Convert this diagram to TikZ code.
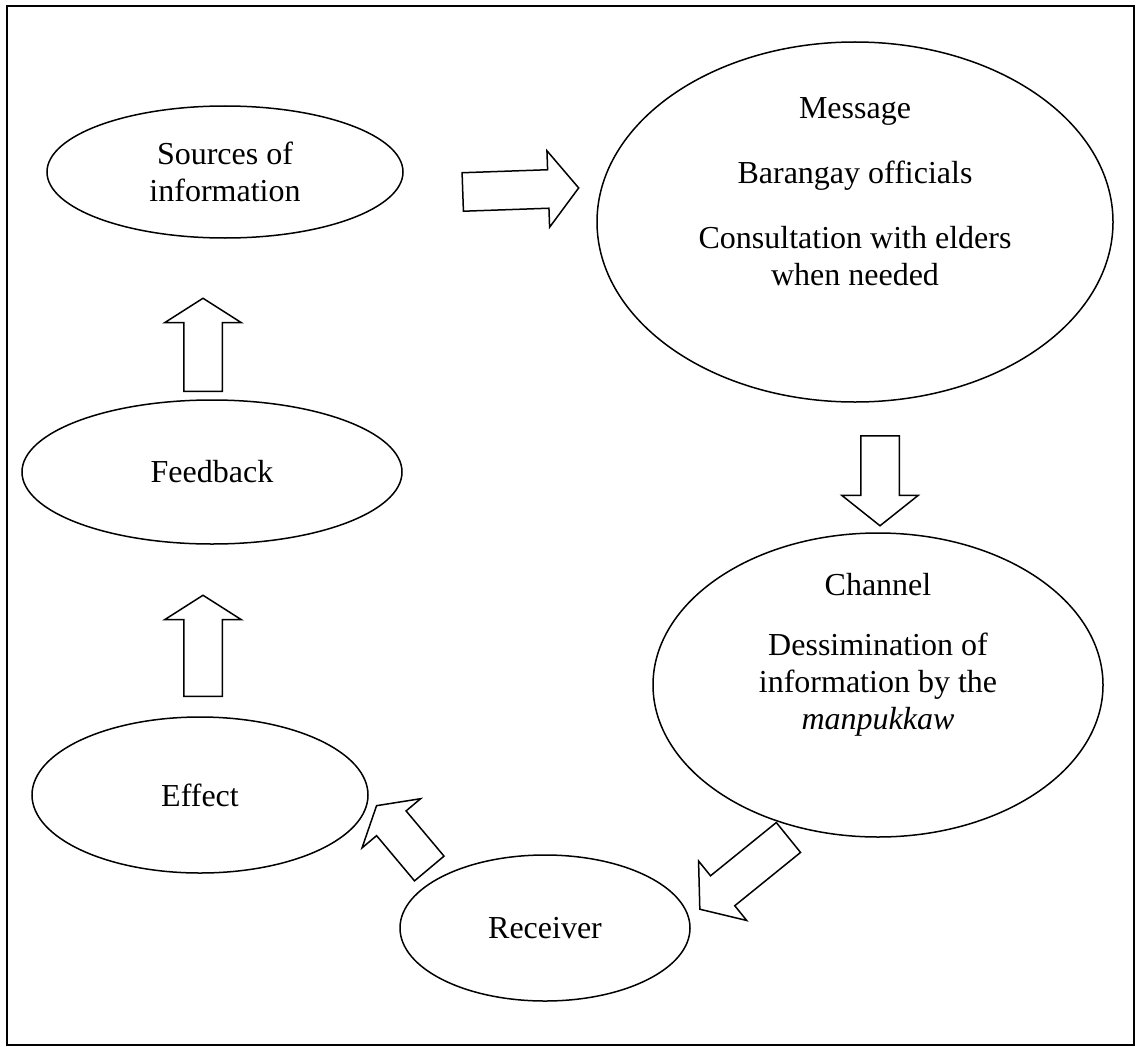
\documentclass[tikz,border=0pt]{standalone}
\usepackage{fontspec}
\setmainfont{Liberation Serif}
\usetikzlibrary{shapes,arrows,positioning}

\begin{document}
\begin{tikzpicture}[x=1pt,y=-1pt,
  bubbletext/.style={align=center, inner sep=0pt, font=\fontsize{32}{37}\selectfont},
  bubble/.style={ellipse, draw, line width=1.5pt, bubbletext},
  blockarrow/.style={single arrow, draw, line width=1.5pt, inner xsep=0pt,
    inner ysep=18.5pt, single arrow head extend=19pt}]
\useasboundingbox (0,0) rectangle (1139,1046);
% Frame
\draw[line width=2.5pt] (7,6) rectangle (1134,1045);

% Stages of the cycle
\node[bubble, minimum width=356pt, minimum height=132pt] (sources) at (225,172) {Sources of\\information};
\node[bubble, minimum width=516pt, minimum height=360pt] (message) at (855,222) {};
\node[bubbletext] (messagetext) at (855,192) {Message\\[28pt]Barangay officials\\[28pt]Consultation with elders\\when needed};
\node[bubble, minimum width=450pt, minimum height=304pt] (channel) at (878,685) {};
\node[bubbletext] (channeltext) at (878,655) {Channel\\[23pt]Dessimination of\\information by the\\\textit{manpukkaw}};
\node[bubble, minimum width=290pt, minimum height=146pt] (receiver) at (545,928) {Receiver};
\node[bubble, minimum width=336pt, minimum height=156pt] (effect) at (200,795) {Effect};
\node[bubble, minimum width=380pt, minimum height=144pt] (feedback) at (212,472) {Feedback};

% Block arrows between stages
\node[blockarrow, minimum height=116pt, single arrow tip angle=103, rotate=2, anchor=tail] (toMessage) at (462,192) {};
\node[blockarrow, minimum height=90pt, single arrow tip angle=103, rotate=-90, anchor=tail] (toChannel) at (880,435) {};
\node[blockarrow, minimum height=114pt, single arrow tip angle=105, rotate=219, anchor=tail] (toReceiver) at (789,837) {};
\node[blockarrow, minimum height=82pt, single arrow tip angle=118, rotate=130, anchor=tip] (toEffect) at (376,805) {};
\node[blockarrow, minimum height=101pt, single arrow tip angle=115, rotate=90, anchor=tail] (toFeedback) at (203,697) {};
\node[blockarrow, minimum height=93pt, single arrow tip angle=115, rotate=90, anchor=tail] (toSources) at (203,392) {};

\end{tikzpicture}
\end{document}
